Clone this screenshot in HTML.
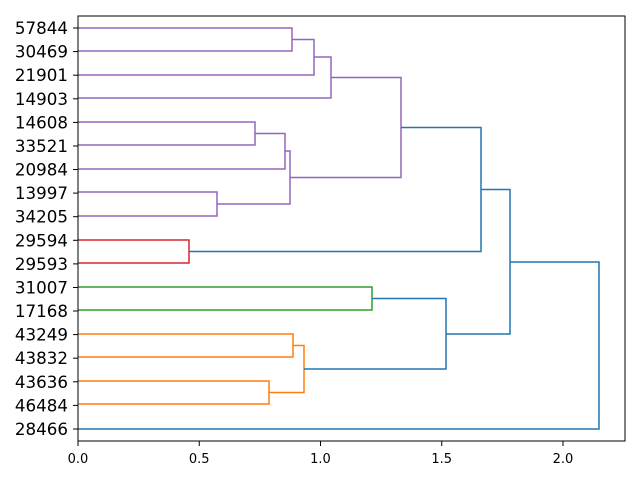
<!DOCTYPE html>
<html><head><meta charset="utf-8"><style>html,body{margin:0;padding:0;background:#fff}svg{display:block}</style></head>
<body>
<svg width="640" height="480" viewBox="0 0 640 480" xmlns="http://www.w3.org/2000/svg" font-family="DejaVu Sans, Liberation Sans, sans-serif">
<rect width="640" height="480" fill="#fff"/>
<g fill="none" stroke-width="1.5">
<g stroke="#9467bd">
<polyline points="78,28 292,28 292,51 78,51"/>
<polyline points="292,39.5 314,39.5 314,75 78,75"/>
<polyline points="314,57 331,57 331,98 78,98"/>
<polyline points="78,122 255,122 255,145 78,145"/>
<polyline points="255,133.5 285,133.5 285,169 78,169"/>
<polyline points="78,192 217,192 217,216 78,216"/>
<polyline points="285,151 290,151 290,204 217,204"/>
<polyline points="331,77.5 401,77.5 401,177.5 290,177.5"/>
</g>
<polyline stroke="#d62728" points="78,240 189,240 189,263 78,263"/>
<polyline stroke="#2ca02c" points="78,287 372,287 372,310 78,310"/>
<g stroke="#ff7f0e">
<polyline points="78,334 293,334 293,357 78,357"/>
<polyline points="78,381 269,381 269,404 78,404"/>
<polyline points="293,345.5 304,345.5 304,392.5 269,392.5"/>
</g>
<g stroke="#1f77b4">
<polyline points="401,127.5 481,127.5 481,251.5 189,251.5"/>
<polyline points="372,298.5 446,298.5 446,369 304,369"/>
<polyline points="481,189.5 510,189.5 510,334 446,334"/>
<polyline points="510,262 599,262 599,429 78,429"/>
</g>
</g>
<rect x="78" y="16" width="547" height="425" fill="none" stroke="#000" stroke-width="1"/>
<g stroke="#000" stroke-width="1">
<line x1="78" y1="441" x2="78" y2="446"/><line x1="199.25" y1="441" x2="199.25" y2="446"/><line x1="320.5" y1="441" x2="320.5" y2="446"/><line x1="441.75" y1="441" x2="441.75" y2="446"/><line x1="563" y1="441" x2="563" y2="446"/>
<line x1="73" y1="28" x2="78" y2="28"/><line x1="73" y1="51.6" x2="78" y2="51.6"/><line x1="73" y1="75.2" x2="78" y2="75.2"/><line x1="73" y1="98.8" x2="78" y2="98.8"/><line x1="73" y1="122.4" x2="78" y2="122.4"/><line x1="73" y1="146" x2="78" y2="146"/><line x1="73" y1="169.5" x2="78" y2="169.5"/><line x1="73" y1="193.1" x2="78" y2="193.1"/><line x1="73" y1="216.7" x2="78" y2="216.7"/><line x1="73" y1="240.3" x2="78" y2="240.3"/><line x1="73" y1="263.9" x2="78" y2="263.9"/><line x1="73" y1="287.5" x2="78" y2="287.5"/><line x1="73" y1="311" x2="78" y2="311"/><line x1="73" y1="334.6" x2="78" y2="334.6"/><line x1="73" y1="358.2" x2="78" y2="358.2"/><line x1="73" y1="381.8" x2="78" y2="381.8"/><line x1="73" y1="405.4" x2="78" y2="405.4"/><line x1="73" y1="429" x2="78" y2="429"/>
</g>
<g font-size="13" text-anchor="middle" fill="#000">
<text x="78" y="463">0.0</text><text x="199.25" y="463">0.5</text><text x="320.5" y="463">1.0</text><text x="441.75" y="463">1.5</text><text x="563" y="463">2.0</text>
</g>
<g font-size="16.7" text-anchor="end" fill="#000" dominant-baseline="central">
<text x="68" y="28">57844</text><text x="68" y="51.6">30469</text><text x="68" y="75.2">21901</text><text x="68" y="98.8">14903</text><text x="68" y="122.4">14608</text><text x="68" y="146">33521</text><text x="68" y="169.5">20984</text><text x="68" y="193.1">13997</text><text x="68" y="216.7">34205</text><text x="68" y="240.3">29594</text><text x="68" y="263.9">29593</text><text x="68" y="287.5">31007</text><text x="68" y="311">17168</text><text x="68" y="334.6">43249</text><text x="68" y="358.2">43832</text><text x="68" y="381.8">43636</text><text x="68" y="405.4">46484</text><text x="68" y="429">28466</text>
</g>
</svg>
</body></html>
